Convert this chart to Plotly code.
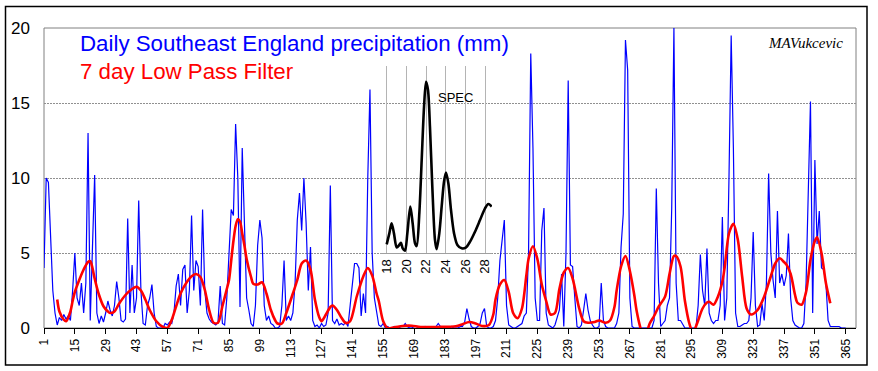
import plotly.graph_objects as go

# ---------------- data ----------------
daily_precip = [
    4.0, 10.0, 9.7, 5.5, 2.5, 1.0, 0.2, 0.7, 0.5, 0.9,
    0.6, 0.8, 0.5, 2.5, 5.0, 2.0, 1.5, 3.0, 1.0, 3.0,
    13.0, 0.5, 5.0, 10.2, 1.0, 0.3, 0.8, 0.4, 1.0, 1.8,
    1.2, 0.8, 1.5, 3.1, 2.0, 0.5, 0.4, 0.6, 7.3, 1.0,
    4.2, 1.0, 2.0, 8.5, 2.5, 0.3, 0.2, 1.5, 2.0, 2.9,
    1.0, 0.1, 0.0, 0.0, 0.0, 0.3, 0.2, 0.4, 0.3, 1.0,
    2.8, 3.6, 1.5, 3.9, 4.2, 1.0, 2.5, 7.5, 2.5, 4.5,
    4.1, 1.5, 7.9, 2.5, 1.0, 0.6, 0.4, 0.3, 0.2, 0.4,
    2.8, 0.3, 0.2, 2.0, 5.0, 7.9, 7.5, 13.6, 10.0, 1.4,
    12.0, 7.0, 2.0, 1.2, 0.3, 0.1, 1.5, 5.5, 7.2, 6.0,
    1.5, 0.5, 0.8, 0.3, 0.2, 0.0, 0.0, 0.1, 1.5, 4.5,
    0.5, 0.8, 0.5, 1.0, 3.0, 7.2, 9.0, 6.5, 10.0, 7.0,
    2.5, 5.4, 0.5, 0.1, 0.2, 0.0, 0.3, 0.1, 0.2, 1.0,
    9.5, 0.5, 0.3, 0.6, 0.2, 0.3, 0.2, 0.4, 0.1, 1.5,
    3.0, 4.3, 4.3, 4.0, 0.8, 2.3, 1.0, 10.0, 15.9, 5.0,
    2.0, 1.0, 0.2, 0.1, 0.3, 0.0, 0.1, 0.0, 0.0, 0.1,
    0.0, 0.0, 0.1, 0.1, 0.3, 0.1, 0.0, 0.0, 0.1, 0.1,
    0.0, 0.0, 0.0, 0.1, 0.0, 0.0, 0.0, 0.1, 0.1, 0.3,
    0.1, 0.0, 0.0, 0.0, 0.0, 0.1, 0.0, 0.0, 0.0, 0.1,
    0.1, 0.4, 1.3, 0.6, 0.1, 0.0, 0.0, 0.1, 0.3, 1.0,
    1.3, 0.1, 0.0, 0.0, 0.1, 0.5, 2.0, 4.5, 6.1, 7.2,
    1.5, 0.2, 0.1, 0.0, 0.0, 0.1, 0.2, 0.3, 0.8, 1.0,
    5.0, 18.3, 12.0, 2.0, 0.5, 0.5, 6.5, 8.0, 1.0, 0.2,
    0.1, 0.0, 0.2, 0.8, 1.2, 3.6, 0.1, 5.0, 16.5, 4.2,
    4.1, 2.0, 0.1, 0.0, 0.2, 1.2, 2.3, 1.2, 0.5, 0.2,
    0.0, 0.0, 0.1, 3.0, 0.5, 0.1, 0.0, 0.0, 0.0, 0.0,
    0.3, 1.0, 5.4, 7.6, 19.2, 17.2, 2.0, 0.1, 0.0, 0.0,
    0.0, 0.0, 0.0, 0.0, 0.0, 0.0, 0.0, 0.5, 9.3, 3.0,
    0.1, 0.3, 0.5, 1.5, 2.0, 8.0, 20.0, 3.0, 0.5, 0.5,
    0.2, 0.0, 0.0, 0.0, 0.0, 0.0, 0.0, 1.5, 4.9, 2.5,
    1.5, 5.3, 1.0, 0.5, 0.3, 0.5, 0.5, 1.5, 7.4, 0.5,
    2.0, 10.0, 19.5, 12.0, 1.0, 0.1, 0.1, 0.2, 0.3, 0.3,
    0.5, 2.0, 6.4, 1.5, 0.1, 0.2, 1.6, 0.5, 3.0, 10.3,
    5.0, 3.2, 2.0, 7.8, 3.0, 3.6, 2.8, 3.5, 6.3, 2.0,
    0.5, 0.2, 0.1, 0.0, 0.0, 0.3, 3.0, 8.5, 15.1, 1.0,
    11.2, 5.6, 7.8, 4.0, 3.9, 3.0, 0.5, 0.1, 0.1, 0.1,
    0.1, 0.1, 0.0, 0.0, 0.0,
]
days = list(range(1, len(daily_precip) + 1))

lpf_days = [
    7, 8, 10, 11, 13, 14, 15, 17, 19, 21, 22, 23, 24, 26, 28, 30, 31, 33, 35, 38,
    41, 43, 45, 47, 49, 52, 55, 57, 59, 61, 63, 66, 68, 70, 72, 74, 76, 78, 80, 82,
    84, 85, 86, 87, 88, 89, 90, 91, 92, 93, 95, 96, 98, 100, 102, 104, 106, 107, 109, 111,
    114, 116, 118, 120, 122, 124, 126, 127, 129, 131, 132, 134, 136, 138, 140, 143, 146, 148, 150, 152,
    153, 155, 157, 160, 165, 168, 172, 180, 188, 191, 194, 197, 200, 203, 205, 206, 208, 210, 212, 214,
    216, 218, 220, 221, 223, 225, 227, 229, 231, 233, 235, 237, 239, 241, 244, 246, 248, 251, 253, 256,
    258, 260, 261, 263, 265, 267, 269, 270, 272, 273, 275, 276, 278, 280, 283, 285, 287, 288, 290, 292,
    294, 295, 296, 297, 298, 300, 302, 303, 305, 307, 309, 310, 312, 314, 316, 318, 320, 322, 325, 328,
    331, 333, 335, 337, 338, 340, 342, 343, 345, 347, 349, 351, 352, 354, 356, 358,
]
lpf_values = [
    1.9, 1.1, 0.55, 0.45, 1.1, 1.8, 2.4, 3.2, 3.9, 4.4, 4.45, 4.0, 3.3, 2.2, 1.45, 1.1, 1.0, 1.1, 1.6, 2.2,
    2.6, 2.75, 2.5, 1.9, 1.2, 0.45, 0.07, 0.0, 0.55, 1.45, 2.3, 3.1, 3.45, 3.6, 3.4, 2.55, 1.2, 0.35, 0.35, 1.45,
    2.6, 3.2, 4.5, 5.8, 6.8, 7.25, 7.1, 6.3, 5.5, 4.6, 3.4, 2.95, 2.9, 3.05, 2.3, 1.2, 0.5, 0.3, 0.3, 1.0,
    2.3, 3.2, 4.3, 4.5, 3.9, 1.9, 0.7, 0.45, 0.9, 1.4, 1.5, 1.2, 0.7, 0.33, 0.45, 2.1, 3.45, 4.0, 3.5, 2.3,
    1.8, 0.45, 0.0, 0.05, 0.15, 0.15, 0.07, 0.07, 0.12, 0.25, 0.4, 0.3, 0.13, 0.2, 0.9, 1.9, 2.9, 3.2, 2.4, 1.0,
    0.65, 1.3, 3.5, 4.6, 5.45, 4.6, 2.9, 1.8, 0.9, 1.0, 2.6, 3.7, 4.0, 3.3, 1.3, 0.45, 0.35, 0.4, 0.5, 0.35,
    0.5, 1.4, 2.5, 4.1, 4.8, 3.8, 2.2, 1.2, -0.1, -0.5, -0.1, 0.3, 0.8, 1.4, 2.1, 3.6, 4.8, 4.8, 4.1, 1.8,
    0.3, -0.1, -0.2, 0.1, 0.5, 1.3, 1.7, 1.75, 1.55, 2.1, 3.1, 4.0, 6.3, 6.95, 5.9, 3.4, 1.3, 0.9, 1.2, 2.1,
    3.45, 4.3, 4.65, 4.4, 4.25, 3.6, 2.2, 1.7, 1.55, 2.4, 4.55, 5.8, 6.05, 5.0, 3.0, 1.65,
]

spec_period = [
    18.0, 18.27, 18.5, 18.74, 19.02, 19.28, 19.45, 19.63, 19.86, 20.1, 20.4, 20.64, 20.88, 21.05,
    21.32, 21.56, 21.8, 22.0, 22.2, 22.4, 22.64, 22.91, 23.08, 23.35, 23.59, 23.83, 24.03, 24.27,
    24.54, 24.85, 25.19, 25.63, 26.04, 26.48, 26.98, 27.49, 28.0, 28.34, 28.68,
]
spec_power = [
    0.46, 1.05, 1.59, 1.05, 0.29, 0.43, 0.55, 0.25, 0.12, 1.05, 2.48, 1.59, 0.52, 0.37,
    2.12, 4.97, 7.83, 9.16, 8.72, 6.76, 3.55, 0.70, 0.20, 1.05, 2.48, 3.81, 4.3, 3.73,
    2.3, 1.05, 0.43, 0.25, 0.29, 0.61, 1.14, 1.76, 2.39, 2.62, 2.48,
]

x_tick_days = [1, 15, 29, 43, 57, 71, 85, 99, 113, 127, 141, 155, 169, 183, 197, 211,
               225, 239, 253, 267, 281, 295, 309, 323, 337, 351, 365]
y_ticks = [0, 5, 10, 15, 20]
spec_ticks = [18, 20, 22, 24, 26, 28]

# ---------------- figure ----------------
FONT = "Liberation Sans, Arial, sans-serif"
fig = go.Figure()

fig.add_trace(go.Scatter(x=days, y=daily_precip, mode="lines",
                         line=dict(color="#0000FF", width=1.2),
                         xaxis="x", yaxis="y", showlegend=False))
fig.add_trace(go.Scatter(x=lpf_days, y=lpf_values, mode="lines",
                         line=dict(color="#FF0000", width=2.6, shape="spline", smoothing=0.8),
                         xaxis="x", yaxis="y", showlegend=False))
fig.add_trace(go.Scatter(x=spec_period, y=spec_power, mode="lines",
                         line=dict(color="#000000", width=2.6, shape="spline", smoothing=0.8),
                         xaxis="x2", yaxis="y2", showlegend=False))

W, H = 878, 371
L, R, T, B = 44, 22, 28, 43
pw, ph = W - L - R, H - T - B

def px(xp):
    return (xp - L) / pw

def py(yp):
    return (H - B - yp) / ph

fig.update_layout(
    width=W, height=H,
    margin=dict(l=L, r=R, t=T, b=B),
    paper_bgcolor="white",
    plot_bgcolor="rgba(0,0,0,0)",
    font=dict(family=FONT, color="black"),
    xaxis=dict(range=[1, 369.67], tickmode="array", tickvals=x_tick_days,
               tickangle=-90, tickfont=dict(size=12, family=FONT),
               ticks="outside", ticklen=5, tickcolor="black",
               showgrid=False, zeroline=False, showline=True,
               linecolor="black", linewidth=1, domain=[0, 1]),
    yaxis=dict(range=[0, 20], tickmode="array", tickvals=y_ticks,
               tickfont=dict(size=17, family=FONT), ticks="",
               ticklabelstandoff=13,
               showgrid=True, gridcolor="#909090", griddash="2px,1px", gridwidth=1,
               zeroline=False, showline=False, domain=[0, 1]),
    xaxis2=dict(domain=[px(380), px(492)], anchor="y2", range=[17.32, 28.71],
                tickmode="array", tickvals=spec_ticks, tickangle=-90,
                tickfont=dict(size=13, family=FONT), ticks="",
                showgrid=True, gridcolor="#B4B4B4", gridwidth=1,
                zeroline=False, showline=True, linecolor="#A0A0A0", linewidth=1),
    yaxis2=dict(domain=[py(253), py(66)], anchor="x2", range=[0, 10],
                visible=False, showgrid=False, zeroline=False),
)

# plot area border (grey) and outer frame (black)
fig.add_shape(type="rect", xref="paper", yref="paper", x0=0, x1=1, y0=0, y1=1,
              line=dict(color="#808080", width=1), layer="below")
fig.add_shape(type="rect", xref="paper", yref="paper",
              x0=px(5.5), x1=px(867), y0=py(365), y1=py(6.5),
              line=dict(color="black", width=1.5), layer="above")

fig.add_annotation(text="Daily Southeast England precipitation (mm)",
                   xref="paper", yref="paper", x=px(78), y=py(43),
                   xanchor="left", yanchor="middle", showarrow=False,
                   font=dict(size=22.3, color="#0000FF", family=FONT))
fig.add_annotation(text="7 day Low Pass Filter",
                   xref="paper", yref="paper", x=px(78), y=py(72),
                   xanchor="left", yanchor="middle", showarrow=False,
                   font=dict(size=22.3, color="#FF0000", family=FONT))
fig.add_annotation(text="MAVukcevic",
                   xref="paper", yref="paper", x=px(805), y=py(43),
                   xanchor="center", yanchor="middle", showarrow=False,
                   font=dict(size=15, color="black", family="Liberation Serif, serif", style="italic"))
fig.add_annotation(text="SPEC", xref="x2", yref="y2", x=25.0, y=8.34,
                   xanchor="center", yanchor="middle", showarrow=False,
                   font=dict(size=13, color="black", family=FONT))

fig.write_html("out.html",
               config={"displayModeBar": False, "staticPlot": True},
               post_script="document.body.style.margin='0px';document.body.style.overflow='hidden';")
